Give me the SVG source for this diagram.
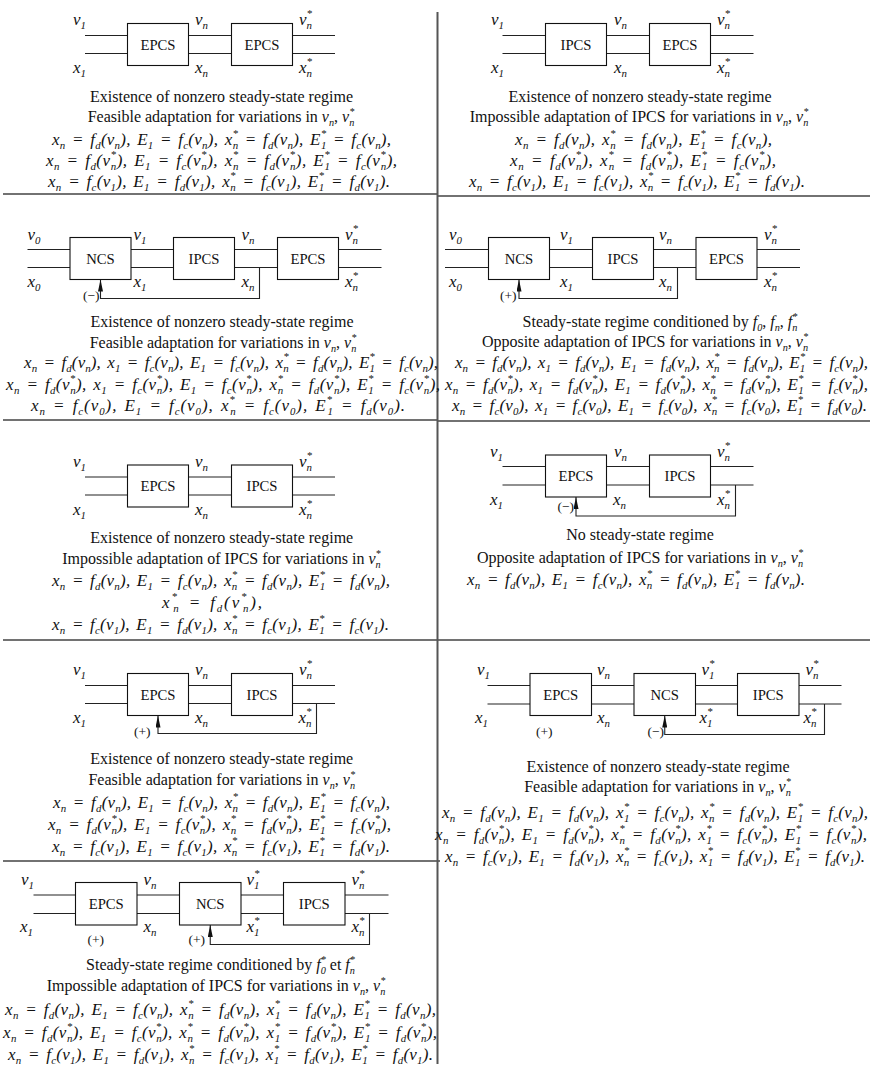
<svg xmlns="http://www.w3.org/2000/svg" width="870" height="1066" viewBox="0 0 870 1066">
<style>
.t{font-family:"Liberation Serif","Times New Roman",serif;font-size:16px;fill:#111;text-anchor:middle}
.q{font-family:"Liberation Serif","Times New Roman",serif;font-size:17px;font-style:italic;fill:#111;word-spacing:2px}
.i{font-style:italic}
.b{font-size:64%;baseline-shift:-0.4em}
.p{font-size:64%;baseline-shift:0.72em}
.lb{font-family:"Liberation Serif","Times New Roman",serif;font-size:17px;font-style:italic;fill:#111}
.bx{font-family:"Liberation Serif","Times New Roman",serif;font-size:14.7px;fill:#111;text-anchor:middle}
.sg{font-family:"Liberation Serif","Times New Roman",serif;font-size:13.5px;fill:#111}
.box{fill:#fff;stroke:#111;stroke-width:1.1}
.ln{fill:none;stroke:#222;stroke-width:1.1}
.fb{fill:none;stroke:#222;stroke-width:1.1;marker-end:url(#ar)}
.sep{fill:none;stroke:#444;stroke-width:1.5}
.vsep{fill:none;stroke:#555;stroke-width:2}
</style>
<defs>
<marker id="ar" viewBox="0 0 12 5" refX="12" refY="2.5" markerWidth="12" markerHeight="5" markerUnits="userSpaceOnUse" orient="auto"><path d="M0,0 L12,2.5 L0,5 z" fill="#111"/></marker>
</defs>
<rect width="870" height="1066" fill="#fff"/>
<g id="grid">
<path class="sep" d="M3,194H437M437,196H870M3,420H437M437,421H870M3,640H870M3,861H440"/>
<path class="vsep" d="M437.5,12V1064"/>
</g>
<g id="connectors">
<path class="ln" d="M85,35.5H335M85,53.5H335"/>
<path class="ln" d="M502.5,35.5H753.5M502.5,53.5H753.5"/>
<path class="ln" d="M27.5,249.5H381.5M27.5,267.5H381.5"/>
<path class="fb" d="M259.5,267.5V298.5H100.5V279.5"/>
<path class="ln" d="M445,249.5H800M445,267.5H800"/>
<path class="fb" d="M677.5,267.5V298.5H519V279.5"/>
<path class="ln" d="M85,477H335M85,495H335"/>
<path class="ln" d="M502.5,466.5H753.5M502.5,485H753.5"/>
<path class="fb" d="M735.5,485V516H576V497"/>
<path class="ln" d="M85,685.5H335M85,703.5H335"/>
<path class="fb" d="M316.5,703.5V733.5H158V715.5"/>
<path class="ln" d="M487.5,685.5H841.5M487.5,704H841.5"/>
<path class="fb" d="M824.5,704V734.5H664.75V715.5"/>
<path class="ln" d="M33.5,895H388.5M33.5,913.5H388.5"/>
<path class="fb" d="M369.5,913.5V944.5H210.25V925"/>
</g>
<!-- Diagram 1 -->
<g id="d1-epcs-a"><rect class="box" x="127.5" y="23.5" width="61" height="42"/><text class="bx" x="158" y="49.7">EPCS</text></g>
<g id="d1-epcs-b"><rect class="box" x="231.5" y="23.5" width="61" height="42"/><text class="bx" x="262" y="49.7">EPCS</text></g>
<g id="d1-labels">
<text class="lb" x="73" y="25">ν<tspan class="b">1</tspan></text>
<text class="lb" x="195" y="25">ν<tspan class="b">n</tspan></text>
<text class="lb" x="299" y="25">ν<tspan class="p">*</tspan><tspan class="b" dx="-5.5">n</tspan></text>
<text class="lb" x="73" y="73">x<tspan class="b">1</tspan></text>
<text class="lb" x="195" y="73">x<tspan class="b">n</tspan></text>
<text class="lb" x="299" y="73">x<tspan class="p">*</tspan><tspan class="b" dx="-5.5">n</tspan></text>
<text class="t" x="221.5" y="101.5">Existence of nonzero steady-state regime</text>
<text class="t" x="221" y="122">Feasible adaptation for variations in <tspan class="i">ν<tspan class="b">n</tspan></tspan>, <tspan class="i">ν<tspan class="p">*</tspan><tspan class="b" dx="-5.1">n</tspan></tspan></text>
<text class="q" x="52" y="144.5" textLength="339" lengthAdjust="spacing">x<tspan class="b">n</tspan> = f<tspan class="b">d</tspan>(ν<tspan class="b">n</tspan>), E<tspan class="b">1</tspan> = f<tspan class="b">c</tspan>(ν<tspan class="b">n</tspan>), x<tspan class="p">*</tspan><tspan class="b" dx="-5.5">n</tspan> = f<tspan class="b">d</tspan>(ν<tspan class="b">n</tspan>), E<tspan class="p">*</tspan><tspan class="b" dx="-5.5">1</tspan> = f<tspan class="b">c</tspan>(ν<tspan class="b">n</tspan>),</text>
<text class="q" x="46" y="165.5" textLength="351" lengthAdjust="spacing">x<tspan class="b">n</tspan> = f<tspan class="b">d</tspan>(ν<tspan class="p">*</tspan><tspan class="b" dx="-5.5">n</tspan>), E<tspan class="b">1</tspan> = f<tspan class="b">c</tspan>(ν<tspan class="p">*</tspan><tspan class="b" dx="-5.5">n</tspan>), x<tspan class="p">*</tspan><tspan class="b" dx="-5.5">n</tspan> = f<tspan class="b">d</tspan>(ν<tspan class="p">*</tspan><tspan class="b" dx="-5.5">n</tspan>), E<tspan class="p">*</tspan><tspan class="b" dx="-5.5">1</tspan> = f<tspan class="b">c</tspan>(ν<tspan class="p">*</tspan><tspan class="b" dx="-5.5">n</tspan>),</text>
<text class="q" x="48" y="186.5" textLength="342" lengthAdjust="spacing">x<tspan class="b">n</tspan> = f<tspan class="b">c</tspan>(ν<tspan class="b">1</tspan>), E<tspan class="b">1</tspan> = f<tspan class="b">d</tspan>(ν<tspan class="b">1</tspan>), x<tspan class="p">*</tspan><tspan class="b" dx="-5.5">n</tspan> = f<tspan class="b">c</tspan>(ν<tspan class="b">1</tspan>), E<tspan class="p">*</tspan><tspan class="b" dx="-5.5">1</tspan> = f<tspan class="b">d</tspan>(ν<tspan class="b">1</tspan>).</text>
</g>
<!-- Diagram 2 -->
<g id="d2-ipcs"><rect class="box" x="545.5" y="23.5" width="61" height="42"/><text class="bx" x="576" y="49.7">IPCS</text></g>
<g id="d2-epcs"><rect class="box" x="649.5" y="23.5" width="61" height="42"/><text class="bx" x="680" y="49.7">EPCS</text></g>
<g id="d2-labels">
<text class="lb" x="491" y="25">ν<tspan class="b">1</tspan></text>
<text class="lb" x="614" y="25">ν<tspan class="b">n</tspan></text>
<text class="lb" x="717" y="25">ν<tspan class="p">*</tspan><tspan class="b" dx="-5.5">n</tspan></text>
<text class="lb" x="491" y="73">x<tspan class="b">1</tspan></text>
<text class="lb" x="614" y="73">x<tspan class="b">n</tspan></text>
<text class="lb" x="717" y="73">x<tspan class="p">*</tspan><tspan class="b" dx="-5.5">n</tspan></text>
<text class="t" x="640" y="101.5">Existence of nonzero steady-state regime</text>
<text class="t" x="639" y="122">Impossible adaptation of IPCS for variations in <tspan class="i">ν<tspan class="b">n</tspan></tspan>, <tspan class="i">ν<tspan class="p">*</tspan><tspan class="b" dx="-5.1">n</tspan></tspan></text>
<text class="q" x="515" y="144.5" textLength="257" lengthAdjust="spacing">x<tspan class="b">n</tspan> = f<tspan class="b">d</tspan>(ν<tspan class="b">n</tspan>), x<tspan class="p">*</tspan><tspan class="b" dx="-5.5">n</tspan> = f<tspan class="b">d</tspan>(ν<tspan class="b">n</tspan>), E<tspan class="p">*</tspan><tspan class="b" dx="-5.5">1</tspan> = f<tspan class="b">c</tspan>(ν<tspan class="b">n</tspan>),</text>
<text class="q" x="510" y="165.5" textLength="266" lengthAdjust="spacing">x<tspan class="b">n</tspan> = f<tspan class="b">d</tspan>(ν<tspan class="p">*</tspan><tspan class="b" dx="-5.5">n</tspan>), x<tspan class="p">*</tspan><tspan class="b" dx="-5.5">n</tspan> = f<tspan class="b">d</tspan>(ν<tspan class="p">*</tspan><tspan class="b" dx="-5.5">n</tspan>), E<tspan class="p">*</tspan><tspan class="b" dx="-5.5">1</tspan> = f<tspan class="b">c</tspan>(ν<tspan class="p">*</tspan><tspan class="b" dx="-5.5">n</tspan>),</text>
<text class="q" x="469" y="186.5" textLength="336" lengthAdjust="spacing">x<tspan class="b">n</tspan> = f<tspan class="b">c</tspan>(ν<tspan class="b">1</tspan>), E<tspan class="b">1</tspan> = f<tspan class="b">c</tspan>(ν<tspan class="b">1</tspan>), x<tspan class="p">*</tspan><tspan class="b" dx="-5.5">n</tspan> = f<tspan class="b">c</tspan>(ν<tspan class="b">1</tspan>), E<tspan class="p">*</tspan><tspan class="b" dx="-5.5">1</tspan> = f<tspan class="b">d</tspan>(ν<tspan class="b">1</tspan>).</text>
</g>
<!-- Diagram 3 -->
<g id="d3-ncs"><rect class="box" x="70" y="237.5" width="61" height="42"/><text class="bx" x="100.5" y="263.7">NCS</text></g>
<g id="d3-ipcs"><rect class="box" x="173.5" y="237.5" width="61" height="42"/><text class="bx" x="204" y="263.7">IPCS</text></g>
<g id="d3-epcs"><rect class="box" x="277.5" y="237.5" width="61" height="42"/><text class="bx" x="308" y="263.7">EPCS</text></g>
<g id="d3-labels">
<text class="lb" x="27.5" y="239.5">ν<tspan class="b">0</tspan></text>
<text class="lb" x="133.5" y="239.5">ν<tspan class="b">1</tspan></text>
<text class="lb" x="241.5" y="239.5">ν<tspan class="b">n</tspan></text>
<text class="lb" x="345" y="239.5">ν<tspan class="p">*</tspan><tspan class="b" dx="-5.5">n</tspan></text>
<text class="lb" x="27.5" y="287">x<tspan class="b">0</tspan></text>
<text class="lb" x="133.5" y="287">x<tspan class="b">1</tspan></text>
<text class="lb" x="241.5" y="287">x<tspan class="b">n</tspan></text>
<text class="lb" x="345" y="287">x<tspan class="p">*</tspan><tspan class="b" dx="-5.5">n</tspan></text>
<text class="sg" x="83" y="300">(−)</text>
<text class="t" x="222" y="327">Existence of nonzero steady-state regime</text>
<text class="t" x="223" y="347.5">Feasible adaptation for variations in <tspan class="i">ν<tspan class="b">n</tspan></tspan>, <tspan class="i">ν<tspan class="p">*</tspan><tspan class="b" dx="-5.1">n</tspan></tspan></text>
<text class="q" x="24" y="368" textLength="414" lengthAdjust="spacing">x<tspan class="b">n</tspan> = f<tspan class="b">d</tspan>(ν<tspan class="b">n</tspan>), x<tspan class="b">1</tspan> = f<tspan class="b">c</tspan>(ν<tspan class="b">n</tspan>), E<tspan class="b">1</tspan> = f<tspan class="b">c</tspan>(ν<tspan class="b">n</tspan>), x<tspan class="p">*</tspan><tspan class="b" dx="-5.5">n</tspan> = f<tspan class="b">d</tspan>(ν<tspan class="b">n</tspan>), E<tspan class="p">*</tspan><tspan class="b" dx="-5.5">1</tspan> = f<tspan class="b">c</tspan>(ν<tspan class="b">n</tspan>),</text>
<text class="q" x="6" y="389.5" textLength="434" lengthAdjust="spacing">x<tspan class="b">n</tspan> = f<tspan class="b">d</tspan>(ν<tspan class="p">*</tspan><tspan class="b" dx="-5.5">n</tspan>), x<tspan class="b">1</tspan> = f<tspan class="b">c</tspan>(ν<tspan class="p">*</tspan><tspan class="b" dx="-5.5">n</tspan>), E<tspan class="b">1</tspan> = f<tspan class="b">c</tspan>(ν<tspan class="p">*</tspan><tspan class="b" dx="-5.5">n</tspan>), x<tspan class="p">*</tspan><tspan class="b" dx="-5.5">n</tspan> = f<tspan class="b">d</tspan>(ν<tspan class="p">*</tspan><tspan class="b" dx="-5.5">n</tspan>), E<tspan class="p">*</tspan><tspan class="b" dx="-5.5">1</tspan> = f<tspan class="b">c</tspan>(ν<tspan class="p">*</tspan><tspan class="b" dx="-5.5">n</tspan>),</text>
<text class="q" x="31" y="410.5" textLength="374" lengthAdjust="spacing">x<tspan class="b">n</tspan> = f<tspan class="b">c</tspan>(ν<tspan class="b">0</tspan>), E<tspan class="b">1</tspan> = f<tspan class="b">c</tspan>(ν<tspan class="b">0</tspan>), x<tspan class="p">*</tspan><tspan class="b" dx="-5.5">n</tspan> = f<tspan class="b">c</tspan>(ν<tspan class="b">0</tspan>), E<tspan class="p">*</tspan><tspan class="b" dx="-5.5">1</tspan> = f<tspan class="b">d</tspan>(ν<tspan class="b">0</tspan>).</text>
</g>
<!-- Diagram 4 -->
<g id="d4-ncs"><rect class="box" x="488.5" y="237.5" width="61" height="42"/><text class="bx" x="519" y="263.7">NCS</text></g>
<g id="d4-ipcs"><rect class="box" x="592.5" y="237.5" width="61" height="42"/><text class="bx" x="623" y="263.7">IPCS</text></g>
<g id="d4-epcs"><rect class="box" x="696" y="237.5" width="61" height="42"/><text class="bx" x="726.5" y="263.7">EPCS</text></g>
<g id="d4-labels">
<text class="lb" x="449" y="239.5">ν<tspan class="b">0</tspan></text>
<text class="lb" x="560" y="239.5">ν<tspan class="b">1</tspan></text>
<text class="lb" x="659" y="239.5">ν<tspan class="b">n</tspan></text>
<text class="lb" x="764" y="239.5">ν<tspan class="p">*</tspan><tspan class="b" dx="-5.5">n</tspan></text>
<text class="lb" x="449" y="287">x<tspan class="b">0</tspan></text>
<text class="lb" x="560" y="287">x<tspan class="b">1</tspan></text>
<text class="lb" x="659" y="287">x<tspan class="b">n</tspan></text>
<text class="lb" x="764" y="287">x<tspan class="p">*</tspan><tspan class="b" dx="-5.5">n</tspan></text>
<text class="sg" x="500" y="300">(+)</text>
<text class="t" x="660" y="327">Steady-state regime conditioned by <tspan class="i">f<tspan class="b">0</tspan></tspan>, <tspan class="i">f<tspan class="b">n</tspan></tspan>, <tspan class="i">f<tspan class="p">*</tspan><tspan class="b" dx="-5.1">n</tspan></tspan></text>
<text class="t" x="645" y="347">Opposite adaptation of IPCS for variations in <tspan class="i">ν<tspan class="b">n</tspan></tspan>, <tspan class="i">ν<tspan class="p">*</tspan><tspan class="b" dx="-5.1">n</tspan></tspan></text>
<text class="q" x="455" y="368" textLength="413" lengthAdjust="spacing">x<tspan class="b">n</tspan> = f<tspan class="b">d</tspan>(ν<tspan class="b">n</tspan>), x<tspan class="b">1</tspan> = f<tspan class="b">d</tspan>(ν<tspan class="b">n</tspan>), E<tspan class="b">1</tspan> = f<tspan class="b">d</tspan>(ν<tspan class="b">n</tspan>), x<tspan class="p">*</tspan><tspan class="b" dx="-5.5">n</tspan> = f<tspan class="b">d</tspan>(ν<tspan class="b">n</tspan>), E<tspan class="p">*</tspan><tspan class="b" dx="-5.5">1</tspan> = f<tspan class="b">c</tspan>(ν<tspan class="b">n</tspan>),</text>
<text class="q" x="445" y="389.5" textLength="423" lengthAdjust="spacing">x<tspan class="b">n</tspan> = f<tspan class="b">d</tspan>(ν<tspan class="p">*</tspan><tspan class="b" dx="-5.5">n</tspan>), x<tspan class="b">1</tspan> = f<tspan class="b">d</tspan>(ν<tspan class="p">*</tspan><tspan class="b" dx="-5.5">n</tspan>), E<tspan class="b">1</tspan> = f<tspan class="b">d</tspan>(ν<tspan class="p">*</tspan><tspan class="b" dx="-5.5">n</tspan>), x<tspan class="p">*</tspan><tspan class="b" dx="-5.5">n</tspan> = f<tspan class="b">d</tspan>(ν<tspan class="p">*</tspan><tspan class="b" dx="-5.5">n</tspan>), E<tspan class="p">*</tspan><tspan class="b" dx="-5.5">1</tspan> = f<tspan class="b">c</tspan>(ν<tspan class="p">*</tspan><tspan class="b" dx="-5.5">n</tspan>),</text>
<text class="q" x="452" y="411" textLength="415" lengthAdjust="spacing">x<tspan class="b">n</tspan> = f<tspan class="b">c</tspan>(ν<tspan class="b">0</tspan>), x<tspan class="b">1</tspan> = f<tspan class="b">c</tspan>(ν<tspan class="b">0</tspan>), E<tspan class="b">1</tspan> = f<tspan class="b">c</tspan>(ν<tspan class="b">0</tspan>), x<tspan class="p">*</tspan><tspan class="b" dx="-5.5">n</tspan> = f<tspan class="b">c</tspan>(ν<tspan class="b">0</tspan>), E<tspan class="p">*</tspan><tspan class="b" dx="-5.5">1</tspan> = f<tspan class="b">d</tspan>(ν<tspan class="b">0</tspan>).</text>
</g>
<!-- Diagram 5 -->
<g id="d5-epcs"><rect class="box" x="127.5" y="465" width="61" height="42"/><text class="bx" x="158" y="491.2">EPCS</text></g>
<g id="d5-ipcs"><rect class="box" x="231.5" y="465" width="61" height="42"/><text class="bx" x="262" y="491.2">IPCS</text></g>
<g id="d5-labels">
<text class="lb" x="73" y="466.5">ν<tspan class="b">1</tspan></text>
<text class="lb" x="195" y="466.5">ν<tspan class="b">n</tspan></text>
<text class="lb" x="299" y="466.5">ν<tspan class="p">*</tspan><tspan class="b" dx="-5.5">n</tspan></text>
<text class="lb" x="73" y="514.5">x<tspan class="b">1</tspan></text>
<text class="lb" x="195" y="514.5">x<tspan class="b">n</tspan></text>
<text class="lb" x="299" y="514.5">x<tspan class="p">*</tspan><tspan class="b" dx="-5.5">n</tspan></text>
<text class="t" x="221.7" y="543">Existence of nonzero steady-state regime</text>
<text class="t" x="221.5" y="564">Impossible adaptation of IPCS for variations in <tspan class="i">ν<tspan class="p">*</tspan><tspan class="b" dx="-5.1">n</tspan></tspan></text>
<text class="q" x="52" y="586" textLength="338" lengthAdjust="spacing">x<tspan class="b">n</tspan> = f<tspan class="b">d</tspan>(ν<tspan class="b">n</tspan>), E<tspan class="b">1</tspan> = f<tspan class="b">c</tspan>(ν<tspan class="b">n</tspan>), x<tspan class="p">*</tspan><tspan class="b" dx="-5.5">n</tspan> = f<tspan class="b">d</tspan>(ν<tspan class="b">n</tspan>), E<tspan class="p">*</tspan><tspan class="b" dx="-5.5">1</tspan> = f<tspan class="b">d</tspan>(ν<tspan class="b">n</tspan>),</text>
<text class="q" x="162" y="607.5" textLength="100" lengthAdjust="spacing">x<tspan class="p">*</tspan><tspan class="b" dx="-5.5">n</tspan> = f<tspan class="b">d</tspan>(ν<tspan class="p">*</tspan><tspan class="b" dx="-5.5">n</tspan>),</text>
<text class="q" x="52" y="629.5" textLength="337" lengthAdjust="spacing">x<tspan class="b">n</tspan> = f<tspan class="b">c</tspan>(ν<tspan class="b">1</tspan>), E<tspan class="b">1</tspan> = f<tspan class="b">d</tspan>(ν<tspan class="b">1</tspan>), x<tspan class="p">*</tspan><tspan class="b" dx="-5.5">n</tspan> = f<tspan class="b">c</tspan>(ν<tspan class="b">1</tspan>), E<tspan class="p">*</tspan><tspan class="b" dx="-5.5">1</tspan> = f<tspan class="b">c</tspan>(ν<tspan class="b">1</tspan>).</text>
</g>
<!-- Diagram 6 -->
<g id="d6-epcs"><rect class="box" x="545.5" y="455" width="61" height="42"/><text class="bx" x="576" y="481.2">EPCS</text></g>
<g id="d6-ipcs"><rect class="box" x="649.5" y="455" width="61" height="42"/><text class="bx" x="680" y="481.2">IPCS</text></g>
<g id="d6-labels">
<text class="lb" x="490" y="456.5">ν<tspan class="b">1</tspan></text>
<text class="lb" x="614" y="456.5">ν<tspan class="b">n</tspan></text>
<text class="lb" x="717" y="456.5">ν<tspan class="p">*</tspan><tspan class="b" dx="-5.5">n</tspan></text>
<text class="lb" x="490" y="505">x<tspan class="b">1</tspan></text>
<text class="lb" x="613" y="505">x<tspan class="b">n</tspan></text>
<text class="lb" x="717" y="505">x<tspan class="p">*</tspan><tspan class="b" dx="-5.5">n</tspan></text>
<text class="sg" x="557.5" y="511">(−)</text>
<text class="t" x="640" y="539.5">No steady-state regime</text>
<text class="t" x="640" y="563">Opposite adaptation of IPCS for variations in <tspan class="i">ν<tspan class="b">n</tspan></tspan>, <tspan class="i">ν<tspan class="p">*</tspan><tspan class="b" dx="-5.1">n</tspan></tspan></text>
<text class="q" x="467" y="585" textLength="338" lengthAdjust="spacing">x<tspan class="b">n</tspan> = f<tspan class="b">d</tspan>(ν<tspan class="b">n</tspan>), E<tspan class="b">1</tspan> = f<tspan class="b">c</tspan>(ν<tspan class="b">n</tspan>), x<tspan class="p">*</tspan><tspan class="b" dx="-5.5">n</tspan> = f<tspan class="b">d</tspan>(ν<tspan class="b">n</tspan>), E<tspan class="p">*</tspan><tspan class="b" dx="-5.5">1</tspan> = f<tspan class="b">d</tspan>(ν<tspan class="b">n</tspan>).</text>
</g>
<!-- Diagram 7 -->
<g id="d7-epcs"><rect class="box" x="127.5" y="673.5" width="61" height="42"/><text class="bx" x="158" y="699.7">EPCS</text></g>
<g id="d7-ipcs"><rect class="box" x="231.5" y="673.5" width="61" height="42"/><text class="bx" x="262" y="699.7">IPCS</text></g>
<g id="d7-labels">
<text class="lb" x="73" y="675">ν<tspan class="b">1</tspan></text>
<text class="lb" x="195" y="675">ν<tspan class="b">n</tspan></text>
<text class="lb" x="299" y="675">ν<tspan class="p">*</tspan><tspan class="b" dx="-5.5">n</tspan></text>
<text class="lb" x="73" y="723">x<tspan class="b">1</tspan></text>
<text class="lb" x="195" y="723">x<tspan class="b">n</tspan></text>
<text class="lb" x="298.5" y="723">x<tspan class="p">*</tspan><tspan class="b" dx="-5.5">n</tspan></text>
<text class="sg" x="134" y="736">(+)</text>
<text class="t" x="221.7" y="764">Existence of nonzero steady-state regime</text>
<text class="t" x="221.7" y="785">Feasible adaptation for variations in <tspan class="i">ν<tspan class="b">n</tspan></tspan>, <tspan class="i">ν<tspan class="p">*</tspan><tspan class="b" dx="-5.1">n</tspan></tspan></text>
<text class="q" x="53" y="808" textLength="337" lengthAdjust="spacing">x<tspan class="b">n</tspan> = f<tspan class="b">d</tspan>(ν<tspan class="b">n</tspan>), E<tspan class="b">1</tspan> = f<tspan class="b">c</tspan>(ν<tspan class="b">n</tspan>), x<tspan class="p">*</tspan><tspan class="b" dx="-5.5">n</tspan> = f<tspan class="b">d</tspan>(ν<tspan class="b">n</tspan>), E<tspan class="p">*</tspan><tspan class="b" dx="-5.5">1</tspan> = f<tspan class="b">c</tspan>(ν<tspan class="b">n</tspan>),</text>
<text class="q" x="48" y="830" textLength="343" lengthAdjust="spacing">x<tspan class="b">n</tspan> = f<tspan class="b">d</tspan>(ν<tspan class="p">*</tspan><tspan class="b" dx="-5.5">n</tspan>), E<tspan class="b">1</tspan> = f<tspan class="b">c</tspan>(ν<tspan class="p">*</tspan><tspan class="b" dx="-5.5">n</tspan>), x<tspan class="p">*</tspan><tspan class="b" dx="-5.5">n</tspan> = f<tspan class="b">d</tspan>(ν<tspan class="p">*</tspan><tspan class="b" dx="-5.5">n</tspan>), E<tspan class="p">*</tspan><tspan class="b" dx="-5.5">1</tspan> = f<tspan class="b">c</tspan>(ν<tspan class="p">*</tspan><tspan class="b" dx="-5.5">n</tspan>),</text>
<text class="q" x="52" y="851.5" textLength="338" lengthAdjust="spacing">x<tspan class="b">n</tspan> = f<tspan class="b">c</tspan>(ν<tspan class="b">1</tspan>), E<tspan class="b">1</tspan> = f<tspan class="b">c</tspan>(ν<tspan class="b">1</tspan>), x<tspan class="p">*</tspan><tspan class="b" dx="-5.5">n</tspan> = f<tspan class="b">c</tspan>(ν<tspan class="b">1</tspan>), E<tspan class="p">*</tspan><tspan class="b" dx="-5.5">1</tspan> = f<tspan class="b">d</tspan>(ν<tspan class="b">1</tspan>).</text>
</g>
<!-- Diagram 8 -->
<g id="d8-epcs"><rect class="box" x="530" y="673.5" width="61.5" height="42"/><text class="bx" x="560.75" y="699.7">EPCS</text></g>
<g id="d8-ncs"><rect class="box" x="634" y="673.5" width="61.5" height="42"/><text class="bx" x="664.75" y="699.7">NCS</text></g>
<g id="d8-ipcs"><rect class="box" x="737.5" y="673.5" width="61.5" height="42"/><text class="bx" x="768.25" y="699.7">IPCS</text></g>
<g id="d8-labels">
<text class="lb" x="477" y="675">ν<tspan class="b">1</tspan></text>
<text class="lb" x="597" y="675">ν<tspan class="b">n</tspan></text>
<text class="lb" x="701.5" y="675">ν<tspan class="p">*</tspan><tspan class="b" dx="-5.5">1</tspan></text>
<text class="lb" x="805.5" y="675">ν<tspan class="p">*</tspan><tspan class="b" dx="-5.5">n</tspan></text>
<text class="lb" x="475" y="723">x<tspan class="b">1</tspan></text>
<text class="lb" x="597" y="723">x<tspan class="b">n</tspan></text>
<text class="lb" x="699.5" y="723">x<tspan class="p">*</tspan><tspan class="b" dx="-5.5">1</tspan></text>
<text class="lb" x="803.5" y="723">x<tspan class="p">*</tspan><tspan class="b" dx="-5.5">n</tspan></text>
<text class="sg" x="536" y="736">(+)</text>
<text class="sg" x="647.5" y="736">(−)</text>
<text class="t" x="658" y="772">Existence of nonzero steady-state regime</text>
<text class="t" x="657.5" y="792">Feasible adaptation for variations in <tspan class="i">ν<tspan class="b">n</tspan></tspan>, <tspan class="i">ν<tspan class="p">*</tspan><tspan class="b" dx="-5.1">n</tspan></tspan></text>
<text class="q" x="442" y="817.5" textLength="426" lengthAdjust="spacing">x<tspan class="b">n</tspan> = f<tspan class="b">d</tspan>(ν<tspan class="b">n</tspan>), E<tspan class="b">1</tspan> = f<tspan class="b">d</tspan>(ν<tspan class="b">n</tspan>), x<tspan class="p">*</tspan><tspan class="b" dx="-5.5">1</tspan> = f<tspan class="b">c</tspan>(ν<tspan class="b">n</tspan>), x<tspan class="p">*</tspan><tspan class="b" dx="-5.5">n</tspan> = f<tspan class="b">d</tspan>(ν<tspan class="b">n</tspan>), E<tspan class="p">*</tspan><tspan class="b" dx="-5.5">1</tspan> = f<tspan class="b">c</tspan>(ν<tspan class="b">n</tspan>),</text>
<text class="q" x="435" y="839.5" textLength="432" lengthAdjust="spacing">x<tspan class="b">n</tspan> = f<tspan class="b">d</tspan>(ν<tspan class="p">*</tspan><tspan class="b" dx="-5.5">n</tspan>), E<tspan class="b">1</tspan> = f<tspan class="b">d</tspan>(ν<tspan class="p">*</tspan><tspan class="b" dx="-5.5">n</tspan>), x<tspan class="p">*</tspan><tspan class="b" dx="-5.5">n</tspan> = f<tspan class="b">d</tspan>(ν<tspan class="p">*</tspan><tspan class="b" dx="-5.5">n</tspan>), x<tspan class="p">*</tspan><tspan class="b" dx="-5.5">1</tspan> = f<tspan class="b">c</tspan>(ν<tspan class="p">*</tspan><tspan class="b" dx="-5.5">n</tspan>), E<tspan class="p">*</tspan><tspan class="b" dx="-5.5">1</tspan> = f<tspan class="b">c</tspan>(ν<tspan class="p">*</tspan><tspan class="b" dx="-5.5">n</tspan>),</text>
<text class="q" x="445" y="861.5" textLength="420" lengthAdjust="spacing">x<tspan class="b">n</tspan> = f<tspan class="b">c</tspan>(ν<tspan class="b">1</tspan>), E<tspan class="b">1</tspan> = f<tspan class="b">d</tspan>(ν<tspan class="b">1</tspan>), x<tspan class="p">*</tspan><tspan class="b" dx="-5.5">n</tspan> = f<tspan class="b">c</tspan>(ν<tspan class="b">1</tspan>), x<tspan class="p">*</tspan><tspan class="b" dx="-5.5">1</tspan> = f<tspan class="b">d</tspan>(ν<tspan class="b">1</tspan>), E<tspan class="p">*</tspan><tspan class="b" dx="-5.5">1</tspan> = f<tspan class="b">d</tspan>(ν<tspan class="b">1</tspan>).</text>
</g>
<!-- Diagram 9 -->
<g id="d9-epcs"><rect class="box" x="75.5" y="882.5" width="61.5" height="42.5"/><text class="bx" x="106.25" y="909">EPCS</text></g>
<g id="d9-ncs"><rect class="box" x="179.5" y="882.5" width="61.5" height="42.5"/><text class="bx" x="210.25" y="909">NCS</text></g>
<g id="d9-ipcs"><rect class="box" x="283.5" y="882.5" width="61.5" height="42.5"/><text class="bx" x="314.25" y="909">IPCS</text></g>
<g id="d9-labels">
<text class="lb" x="21" y="884.5">ν<tspan class="b">1</tspan></text>
<text class="lb" x="143.5" y="884.5">ν<tspan class="b">n</tspan></text>
<text class="lb" x="246.5" y="884.5">ν<tspan class="p">*</tspan><tspan class="b" dx="-5.5">1</tspan></text>
<text class="lb" x="351.5" y="884.5">ν<tspan class="p">*</tspan><tspan class="b" dx="-5.5">n</tspan></text>
<text class="lb" x="20" y="932">x<tspan class="b">1</tspan></text>
<text class="lb" x="143.5" y="932">x<tspan class="b">n</tspan></text>
<text class="lb" x="246.5" y="932">x<tspan class="p">*</tspan><tspan class="b" dx="-5.5">1</tspan></text>
<text class="lb" x="351.5" y="932">x<tspan class="p">*</tspan><tspan class="b" dx="-5.5">n</tspan></text>
<text class="sg" x="87.5" y="944">(+)</text>
<text class="sg" x="188.5" y="944">(+)</text>
<text class="t" x="220.5" y="969.5">Steady-state regime conditioned by <tspan class="i">f<tspan class="p">*</tspan><tspan class="b" dx="-5.1">0</tspan></tspan> et <tspan class="i">f<tspan class="p">*</tspan><tspan class="b" dx="-5.1">n</tspan></tspan></text>
<text class="t" x="216" y="991">Impossible adaptation of IPCS for variations in <tspan class="i">ν<tspan class="b">n</tspan></tspan>, <tspan class="i">ν<tspan class="p">*</tspan><tspan class="b" dx="-5.1">n</tspan></tspan></text>
<text class="q" x="5" y="1014.5" textLength="431" lengthAdjust="spacing">x<tspan class="b">n</tspan> = f<tspan class="b">d</tspan>(ν<tspan class="b">n</tspan>), E<tspan class="b">1</tspan> = f<tspan class="b">c</tspan>(ν<tspan class="b">n</tspan>), x<tspan class="p">*</tspan><tspan class="b" dx="-5.5">n</tspan> = f<tspan class="b">d</tspan>(ν<tspan class="b">n</tspan>), x<tspan class="p">*</tspan><tspan class="b" dx="-5.5">1</tspan> = f<tspan class="b">d</tspan>(ν<tspan class="b">n</tspan>), E<tspan class="p">*</tspan><tspan class="b" dx="-5.5">1</tspan> = f<tspan class="b">d</tspan>(ν<tspan class="b">n</tspan>),</text>
<text class="q" x="3" y="1037.5" textLength="434" lengthAdjust="spacing">x<tspan class="b">n</tspan> = f<tspan class="b">d</tspan>(ν<tspan class="p">*</tspan><tspan class="b" dx="-5.5">n</tspan>), E<tspan class="b">1</tspan> = f<tspan class="b">c</tspan>(ν<tspan class="p">*</tspan><tspan class="b" dx="-5.5">n</tspan>), x<tspan class="p">*</tspan><tspan class="b" dx="-5.5">n</tspan> = f<tspan class="b">d</tspan>(ν<tspan class="p">*</tspan><tspan class="b" dx="-5.5">n</tspan>), x<tspan class="p">*</tspan><tspan class="b" dx="-5.5">1</tspan> = f<tspan class="b">d</tspan>(ν<tspan class="p">*</tspan><tspan class="b" dx="-5.5">n</tspan>), E<tspan class="p">*</tspan><tspan class="b" dx="-5.5">1</tspan> = f<tspan class="b">d</tspan>(ν<tspan class="p">*</tspan><tspan class="b" dx="-5.5">n</tspan>),</text>
<text class="q" x="8" y="1059.5" textLength="425" lengthAdjust="spacing">x<tspan class="b">n</tspan> = f<tspan class="b">c</tspan>(ν<tspan class="b">1</tspan>), E<tspan class="b">1</tspan> = f<tspan class="b">d</tspan>(ν<tspan class="b">1</tspan>), x<tspan class="p">*</tspan><tspan class="b" dx="-5.5">n</tspan> = f<tspan class="b">c</tspan>(ν<tspan class="b">1</tspan>), x<tspan class="p">*</tspan><tspan class="b" dx="-5.5">1</tspan> = f<tspan class="b">d</tspan>(ν<tspan class="b">1</tspan>), E<tspan class="p">*</tspan><tspan class="b" dx="-5.5">1</tspan> = f<tspan class="b">d</tspan>(ν<tspan class="b">1</tspan>).</text>
</g>
</svg>
